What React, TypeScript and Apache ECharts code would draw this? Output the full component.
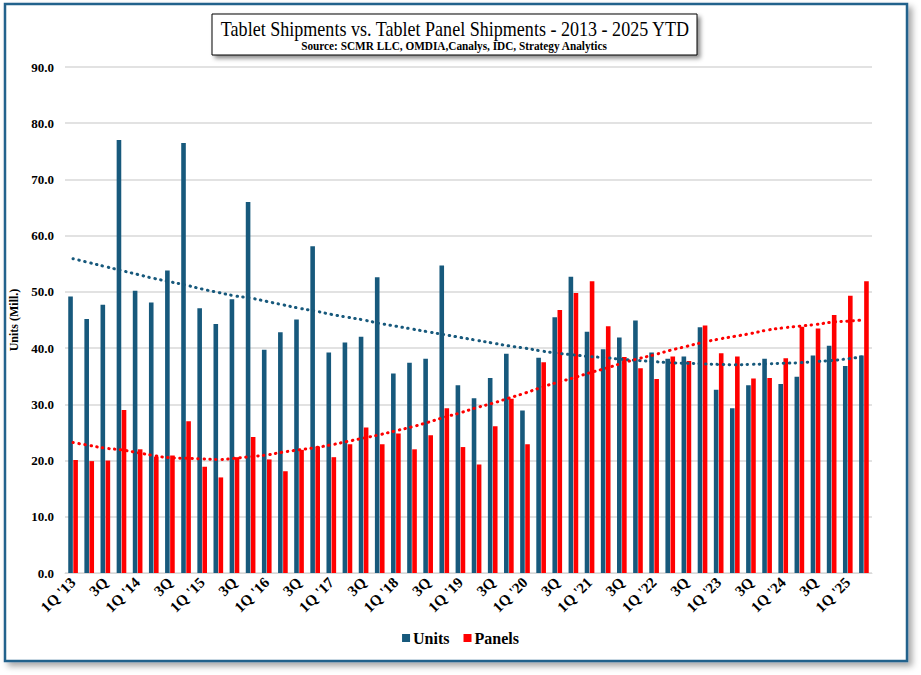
import React, { useEffect, useRef } from "react";
import * as echarts from "echarts";

const categories: string[] = [
  "1Q '13", "2Q", "3Q", "4Q",
  "1Q '14", "2Q", "3Q", "4Q",
  "1Q '15", "2Q", "3Q", "4Q",
  "1Q '16", "2Q", "3Q", "4Q",
  "1Q '17", "2Q", "3Q", "4Q",
  "1Q '18", "2Q", "3Q", "4Q",
  "1Q '19", "2Q", "3Q", "4Q",
  "1Q '20", "2Q", "3Q", "4Q",
  "1Q '21", "2Q", "3Q", "4Q",
  "1Q '22", "2Q", "3Q", "4Q",
  "1Q '23", "2Q", "3Q", "4Q",
  "1Q '24", "2Q", "3Q", "4Q",
  "1Q '25", "2Q",
];

const units: number[] = [
  49.2, 45.2, 47.7, 77.0,
  50.2, 48.1, 53.8, 76.5,
  47.1, 44.3, 48.7, 66.0,
  39.7, 42.8, 45.1, 58.1,
  39.2, 41.0, 42.0, 52.6,
  35.5, 37.4, 38.1, 54.7,
  33.4, 31.1, 34.7, 39.0,
  28.9, 38.3, 45.5, 52.7,
  42.9, 39.8, 41.9, 44.9,
  39.2, 38.1, 38.5, 43.7,
  32.6, 29.3, 33.4, 38.1,
  33.6, 34.9, 38.7, 40.4,
  36.8, 38.7,
];

const panels: number[] = [
  20.1, 19.9, 20.0, 29.0,
  22.0, 20.7, 20.9, 27.0,
  18.9, 17.0, 20.6, 24.2,
  20.2, 18.1, 21.9, 22.5,
  20.6, 22.9, 25.9, 22.9,
  24.8, 22.0, 24.5, 29.3,
  22.4, 19.3, 26.1, 31.0,
  22.9, 37.5, 46.8, 49.8,
  51.9, 43.9, 38.4, 36.4,
  34.5, 38.5, 37.7, 44.0,
  39.1, 38.5, 34.6, 34.7,
  38.2, 43.8, 43.5, 45.9,
  49.3, 51.9,
];

// Trendlines (one value per quarter)
const unitsTrend: number[] = [
  55.9, 55.2, 54.5, 53.8, 53.1, 52.4, 51.8, 51.2, 50.5, 49.9,
  49.3, 48.9, 48.3, 47.7, 47.1, 46.6, 46.0, 45.5, 45.0, 44.4,
  43.9, 43.4, 42.9, 42.4, 41.9, 41.4, 40.9, 40.4, 40.0, 39.5,
  39.1, 38.8, 38.5, 38.3, 38.0, 37.8, 37.6, 37.4, 37.3, 37.2,
  37.1, 37.05, 37.1, 37.2, 37.3, 37.4, 37.6, 37.8, 38.1, 38.5,
];

const panelsTrend: number[] = [
  23.2, 22.7, 22.2, 21.9, 21.4, 20.9, 20.5, 20.4, 20.3, 20.2,
  20.4, 20.7, 21.0, 21.5, 21.9, 22.3, 22.8, 23.4, 24.0, 24.6,
  25.3, 26.0, 26.8, 27.7, 28.5, 29.4, 30.2, 31.1, 32.0, 33.0,
  33.9, 34.7, 35.6, 36.4, 37.3, 38.1, 38.8, 39.6, 40.3, 41.0,
  41.6, 42.1, 42.6, 43.2, 43.6, 43.9, 44.2, 44.6, 44.8, 45.0,
];

const TITLE = "Tablet Shipments vs. Tablet Panel Shipments - 2013 - 2025 YTD";
const SUBTITLE = "Source: SCMR LLC, OMDIA,Canalys, IDC, Strategy Analytics";
const Y_NAME = "Units (Mill.)";

const BLUE = "#17597C";
const RED = "#FF0000";
const SERIF = "Liberation Serif";

export default function App() {
  const ref = useRef<HTMLDivElement>(null);

  useEffect(() => {
    if (!ref.current) return;
    const chart = echarts.init(ref.current, null, { renderer: "svg" });
    chart.setOption({
      animation: false,
      backgroundColor: "#ffffff",
      textStyle: { fontFamily: SERIF },
      graphic: [
        {
          type: "rect",
          z: -10,
          silent: true,
          shape: { x: 5, y: 4, width: 902, height: 657 },
          style: {
            fill: "#ffffff",
            stroke: "#23628C",
            lineWidth: 2.5,
            shadowBlur: 6,
            shadowOffsetX: 4,
            shadowOffsetY: 4,
            shadowColor: "rgba(0,0,0,0.35)",
          },
        },
        {
          type: "rect",
          z: 10,
          silent: true,
          shape: { x: 212, y: 14, width: 485, height: 41 },
          style: {
            fill: "#ffffff",
            stroke: "#000000",
            lineWidth: 1,
            shadowBlur: 4,
            shadowOffsetX: 3,
            shadowOffsetY: 3,
            shadowColor: "rgba(0,0,0,0.45)",
          },
        },
        {
          type: "text",
          z: 11,
          silent: true,
          x: 455,
          y: 29,
          scaleX: 0.86,
          style: {
            text: TITLE,
            fontFamily: SERIF,
            fontSize: 21,
            fontWeight: "normal",
            fill: "#000000",
            textAlign: "center",
            textVerticalAlign: "middle",
          },
        },
        {
          type: "text",
          z: 11,
          silent: true,
          x: 454,
          y: 46.5,
          scaleX: 0.94,
          style: {
            text: SUBTITLE,
            fontFamily: SERIF,
            fontSize: 12,
            fontWeight: "bold",
            fill: "#000000",
            textAlign: "center",
            textVerticalAlign: "middle",
          },
        },
      ],
      legend: {
        data: ["Units", "Panels"],
        bottom: 24,
        left: "center",
        itemWidth: 8,
        itemHeight: 8,
        itemGap: 14,
        icon: "rect",
        textStyle: {
          fontFamily: SERIF,
          fontWeight: "bold",
          fontSize: 16,
          color: "#000000",
          padding: [0, 0, 0, -2],
        },
      },
      grid: { left: 63, right: 49, top: 67, bottom: 102 },
      xAxis: {
        type: "category",
        data: categories,
        boundaryGap: true,
        axisLine: { show: true, lineStyle: { color: "#D9D9D9", width: 1 } },
        axisTick: { show: false },
        axisLabel: {
          interval: 1,
          rotate: 45,
          margin: 7,
          fontFamily: SERIF,
          fontWeight: "bold",
          fontSize: 15,
          color: "#000000",
        },
      },
      yAxis: {
        type: "value",
        min: 0,
        max: 90,
        interval: 10,
        name: Y_NAME,
        nameLocation: "middle",
        nameRotate: 90,
        nameGap: 45,
        nameTextStyle: {
          fontFamily: SERIF,
          fontWeight: "bold",
          fontSize: 12,
          color: "#000000",
        },
        axisLine: { show: false },
        axisTick: { show: false },
        splitLine: { lineStyle: { color: "#D9D9D9", width: 1.5 } },
        axisLabel: {
          margin: 11,
          fontFamily: SERIF,
          fontWeight: "bold",
          fontSize: 13,
          color: "#000000",
          formatter: (v: number) => v.toFixed(1),
        },
      },
      series: [
        {
          name: "Units",
          type: "bar",
          data: units,
          barWidth: 4.6,
          barGap: "10%",
          itemStyle: { color: BLUE },
        },
        {
          name: "Panels",
          type: "bar",
          data: panels,
          barWidth: 4.6,
          barGap: "10%",
          itemStyle: { color: RED },
        },
        {
          name: "Units trend",
          type: "line",
          data: unitsTrend,
          symbol: "none",
          smooth: true,
          z: 5,
          lineStyle: { color: BLUE, width: 3, type: [0.5, 5.5], cap: "round" },
        },
        {
          name: "Panels trend",
          type: "line",
          data: panelsTrend,
          symbol: "none",
          smooth: true,
          z: 5,
          lineStyle: { color: RED, width: 3, type: [0.5, 5.5], cap: "round" },
        },
      ],
    });
    return () => chart.dispose();
  }, []);

  return (
    <div
      ref={ref}
      style={{ position: "absolute", left: 0, top: 0, width: 921, height: 675 }}
    />
  );
}
